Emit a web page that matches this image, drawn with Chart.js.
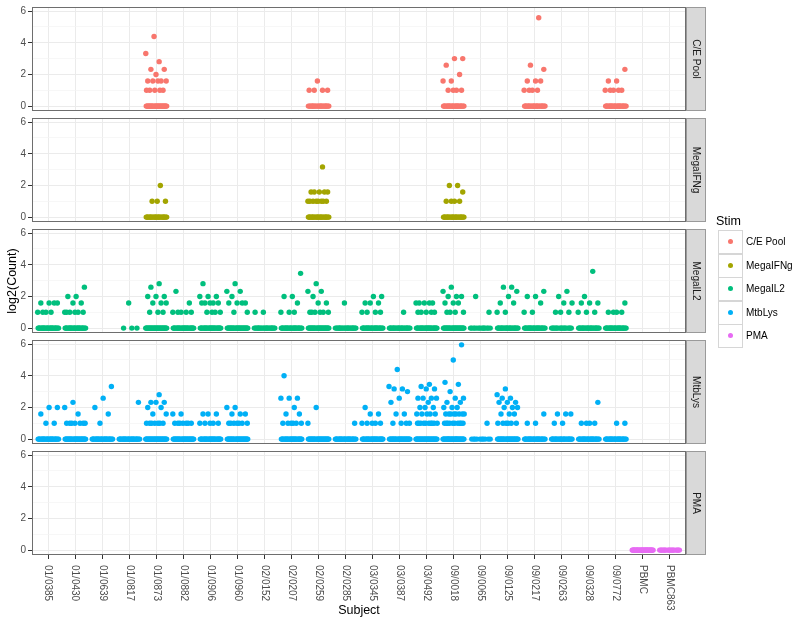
<!DOCTYPE html>
<html>
<head>
<meta charset="utf-8">
<script src="https://cdn.jsdelivr.net/npm/chart.js@4.4.0/dist/chart.umd.min.js"></script>
<style>
  body { margin: 0; background: #fff; }
  #wrap { position: relative; width: 800px; height: 630px; font-family: "Liberation Sans", Arial, sans-serif; }
  #wrap canvas { position: absolute; left: 0; }
  .ltitle { position: absolute; left: 716px; top: 213px; font-size: 12.5px; line-height: 16px; color: #000; white-space: nowrap; }
  .lkey { position: absolute; left: 718px; width: 23px; height: 22px; border: 1px solid #d6d6d6; background: #fff; }
  .ldot { position: absolute; left: 9px; top: 8px; width: 5.4px; height: 5.4px; border-radius: 50%; }
  .llab { position: absolute; left: 746px; font-size: 10px; line-height: 12px; color: #000; white-space: nowrap; }
</style>
</head>
<body>
<div id="wrap"></div>
<script>
// categories
var subjects = ['01/0385', '01/0430', '01/0639', '01/0817', '01/0873', '01/0882', '01/0906', '01/0960',
    '02/0152', '02/0207', '02/0259', '02/0285', '03/0345', '03/0387', '03/0492', '09/0018',
    '09/0065', '09/0125', '09/0217', '09/0263', '09/0328', '09/0772', 'PBMC', 'PBMC863'];
var stims = ['C/E Pool', 'MegaIFNg', 'MegaIL2', 'MtbLys', 'PMA'];
var stimColors = ['#F8766D', '#A3A500', '#00BF7D', '#00B0F6', '#E76BF3'];
var yBreaks = [0, 2, 4, 6];
var yMinor = [1, 3, 5];

// how many wells with Count == 1 (log2 = 0) per subject
var ceOnes  = [0, 0, 0, 0, 32, 0, 0, 0, 0, 0, 24, 0, 0, 0, 0, 28, 0, 0, 26, 0, 0, 28, 0, 0];
var ifnOnes = [0, 0, 0, 0, 26, 0, 0, 0, 0, 0, 26, 0, 0, 0, 0, 26, 0, 0, 0, 0, 0, 0, 0, 0];
var il2Ones = [28, 28, 0, 3, 34, 30, 30, 32, 24, 28, 32, 24, 28, 26, 30, 32, 14, 26, 28, 18, 26, 28, 0, 0];
var mtbOnes = [28, 32, 28, 28, 34, 32, 30, 32, 0, 30, 32, 28, 30, 32, 34, 36, 10, 32, 28, 26, 28, 28, 0, 0];
var pmaOnes = [0, 0, 0, 0, 0, 0, 0, 0, 0, 0, 0, 0, 0, 0, 0, 0, 0, 0, 0, 0, 0, 0, 40, 18];

// the other counts (> 1) per subject
var ceCounts = [[], [], [], [], [21, 10, 7, 5, 5, 4, 3, 3, 3, 3, 3, 2, 2, 2, 2, 2], [], [], [], [], [],
    [3, 2, 2, 2, 2], [], [], [], [], [8, 8, 6, 4, 3, 3, 2, 2, 2, 2], [], [],
    [48, 6, 5, 3, 3, 3, 2, 2, 2, 2], [], [], [5, 3, 3, 2, 2, 2, 2, 2], [], []];
var ifnCounts = [[], [], [], [], [4, 2, 2, 2], [], [], [], [], [],
    [9, 3, 3, 3, 3, 3, 2, 2, 2, 2, 2, 2, 2, 2], [], [], [], [], [4, 4, 3, 2, 2, 2, 2],
    [], [], [], [], [], [], [], []];
var il2Counts = [
    [3, 3, 3, 3, 2, 2, 2, 2],
    [6, 4, 4, 3, 3, 2, 2, 2, 2, 2, 2],
    [],
    [3],
    [7, 6, 4, 4, 4, 3, 3, 3, 2, 2, 2],
    [5, 3, 2, 2, 2, 2, 2],
    [7, 4, 4, 4, 3, 3, 3, 3, 3, 2, 2, 2, 2],
    [7, 5, 5, 4, 3, 3, 3, 3, 2, 2],
    [2, 2],
    [11, 4, 4, 3, 2, 2, 2],
    [7, 5, 5, 4, 3, 3, 2, 2, 2, 2, 2, 2],
    [3],
    [4, 4, 3, 3, 3, 2, 2, 2, 2],
    [2],
    [3, 3, 3, 3, 3, 2, 2, 2, 2, 2],
    [6, 5, 4, 4, 4, 3, 3, 3, 2, 2, 2, 2],
    [4, 2],
    [6, 6, 5, 4, 3, 3, 2, 2],
    [5, 4, 4, 3, 2, 2],
    [5, 4, 3, 3, 2, 2, 2],
    [12, 4, 3, 3, 3, 2, 2, 2],
    [3, 2, 2, 2, 2],
    [],
    []
];
var mtbCounts = [
    [4, 4, 3, 2, 2],
    [5, 4, 3, 2, 2, 2, 2, 2, 2, 2],
    [10, 6, 4, 3, 2],
    [5],
    [7, 5, 5, 5, 4, 4, 3, 3, 2, 2, 2, 2, 2, 2, 2],
    [3, 3, 2, 2, 2, 2, 2, 2, 2],
    [3, 3, 3, 2, 2, 2, 2, 2],
    [4, 4, 3, 3, 3, 2, 2, 2, 2, 2, 2, 2],
    [],
    [16, 6, 6, 6, 4, 3, 3, 2, 2, 2, 2, 2, 2],
    [4, 2],
    [2],
    [4, 3, 3, 2, 2, 2, 2, 2],
    [21, 10, 9, 9, 8, 6, 5, 3, 3, 2, 2, 2, 2],
    [11, 10, 9, 9, 6, 6, 6, 6, 5, 4, 4, 4, 3, 3, 3, 3, 3, 2, 2, 2, 2, 2, 2, 2, 2, 2, 2],
    [62, 32, 12, 11, 8, 6, 6, 5, 5, 4, 4, 4, 3, 3, 3, 3, 3, 3, 3, 3, 2, 2, 2, 2, 2, 2, 2, 2, 2, 2],
    [2],
    [9, 7, 6, 6, 5, 5, 5, 4, 4, 4, 3, 3, 3, 2, 2, 2, 2, 2, 2],
    [3, 2, 2],
    [3, 3, 3, 2, 2],
    [5, 2, 2, 2, 2],
    [2, 2],
    [],
    []
];
var pmaCounts = subjects.map(function () { return []; });

var panelOnes = [ceOnes, ifnOnes, il2Ones, mtbOnes, pmaOnes];
var panelCounts = [ceCounts, ifnCounts, il2Counts, mtbCounts, pmaCounts];

// layout
var panelTop = [7, 118, 229, 340, 451];
var panelH = 104;
var FONT = '"Liberation Sans", Arial, sans-serif';
Chart.defaults.font.family = FONT;

// horizontal jitter inside each subject column (like geom_jitter, width 0.4)
function jitterPoints(ones, counts) {
    var pts = [];
    subjects.forEach(function (s, i) {
        var vals = [];
        for (var n = 0; n < ones[i]; n++) vals.push(1);
        vals = vals.concat(counts[i]);
        vals.forEach(function (c, k) {
            var off = ((((k + 1) * 0.6180339887) % 1) - 0.5) * 0.8;
            pts.push({ x: i + off, y: Math.log2(c) });
        });
    });
    return pts;
}

var framePlugin = {
    id: 'frame',
    afterDraw: function (chart) {
        var ctx = chart.ctx, a = chart.chartArea, s = chart.scales.ys;
        ctx.save();
        ctx.lineWidth = 1;
        ctx.strokeStyle = '#6e6e6e';
        ctx.strokeRect(a.left + 0.5, a.top + 0.5, a.right - a.left - 1, a.bottom - a.top - 1);
        ctx.strokeStyle = '#9a9a9a';
        ctx.strokeRect(s.left + 0.5, s.top + 0.5, s.width - 1, s.height - 1);
        ctx.restore();
    }
};

// subject names, rotated to read downwards
var xLabelPlugin = {
    id: 'xlabels',
    afterDraw: function (chart) {
        var ctx = chart.ctx, a = chart.chartArea, x = chart.scales.x;
        ctx.save();
        ctx.fillStyle = '#4D4D4D';
        ctx.font = '10px ' + FONT;
        ctx.textAlign = 'left';
        ctx.textBaseline = 'middle';
        subjects.forEach(function (s, i) {
            ctx.save();
            ctx.translate(x.getPixelForValue(i), a.bottom + 10);
            ctx.rotate(Math.PI / 2);
            ctx.fillText(s, 0, 0);
            ctx.restore();
        });
        ctx.restore();
    }
};

var wrap = document.getElementById('wrap');

stims.forEach(function (stim, p) {
    var last = p === stims.length - 1;
    var cv = document.createElement('canvas');
    var h = last ? 630 - (panelTop[p] - 8) : panelH + 16;
    cv.width = 706;
    cv.height = h;
    cv.style.top = (panelTop[p] - 8) + 'px';
    wrap.appendChild(cv);

    new Chart(cv, {
        type: 'scatter',
        data: {
            datasets: [{
                label: stim,
                data: jitterPoints(panelOnes[p], panelCounts[p]),
                backgroundColor: stimColors[p],
                borderWidth: 0,
                pointRadius: 2.7,
                pointHoverRadius: 2.7
            }]
        },
        options: {
            responsive: false,
            animation: false,
            devicePixelRatio: 1,
            events: [],
            layout: { padding: { top: 8, bottom: last ? 0 : 8, left: 0, right: 0 } },
            plugins: { legend: { display: false }, tooltip: { enabled: false } },
            scales: {
                x: {
                    type: 'linear',
                    min: -0.6,
                    max: 23.6,
                    afterBuildTicks: function (s) {
                        s.ticks = subjects.map(function (n, i) { return { value: i }; });
                    },
                    afterFit: function (s) { s.height = last ? 75 : 0; },
                    ticks: { display: false },
                    grid: {
                        color: '#EBEBEB',
                        lineWidth: 1,
                        drawTicks: last,
                        tickLength: 4,
                        tickColor: '#333333',
                        tickWidth: 1
                    },
                    border: { display: false },
                    title: {
                        display: last,
                        text: 'Subject',
                        color: '#000',
                        font: { size: 12.5, lineHeight: 1 },
                        padding: { top: 0, bottom: 13 }
                    }
                },
                y: {
                    type: 'linear',
                    position: 'left',
                    min: -0.31,
                    max: 6.26,
                    afterBuildTicks: function (s) {
                        s.ticks = yBreaks.concat(yMinor).sort().map(function (v) { return { value: v }; });
                    },
                    afterFit: function (s) { s.width = 32; },
                    ticks: {
                        color: '#4D4D4D',
                        font: { size: 10 },
                        padding: 2,
                        callback: function (v) { return yBreaks.indexOf(v) >= 0 ? String(v) : ''; }
                    },
                    grid: {
                        color: function (c) { return yBreaks.indexOf(c.tick.value) >= 0 ? '#EBEBEB' : '#F4F4F4'; },
                        lineWidth: function (c) { return yBreaks.indexOf(c.tick.value) >= 0 ? 1 : 0.7; },
                        tickLength: 4,
                        tickColor: function (c) { return yBreaks.indexOf(c.tick.value) >= 0 ? '#333333' : 'rgba(0,0,0,0)'; },
                        tickWidth: 1
                    },
                    border: { display: false },
                    title: {
                        display: p === 2,
                        text: 'log2(Count)',
                        color: '#000',
                        font: { size: 12.5, lineHeight: 1 },
                        padding: { top: 6, bottom: 0 }
                    }
                },
                ys: {
                    type: 'linear',
                    position: 'right',
                    display: true,
                    min: 0,
                    max: 1,
                    backgroundColor: '#D9D9D9',
                    afterFit: function (s) { s.width = 20; },
                    ticks: { display: false },
                    grid: { display: false },
                    border: { display: false },
                    title: {
                        display: true,
                        text: stim,
                        color: '#1A1A1A',
                        font: { size: 10, lineHeight: 1 },
                        padding: { top: 5, bottom: 0 }
                    }
                }
            }
        },
        plugins: last ? [framePlugin, xLabelPlugin] : [framePlugin]
    });
});

// legend
var lt = document.createElement('div');
lt.className = 'ltitle';
lt.textContent = 'Stim';
wrap.appendChild(lt);
stims.forEach(function (stim, k) {
    var top = Math.round(230 + k * 23.6);
    var key = document.createElement('div');
    key.className = 'lkey';
    key.style.top = top + 'px';
    var dot = document.createElement('div');
    dot.className = 'ldot';
    dot.style.background = stimColors[k];
    key.appendChild(dot);
    wrap.appendChild(key);
    var lab = document.createElement('div');
    lab.className = 'llab';
    lab.style.top = (top + 6) + 'px';
    lab.textContent = stim;
    wrap.appendChild(lab);
});
</script>
</body>
</html>
